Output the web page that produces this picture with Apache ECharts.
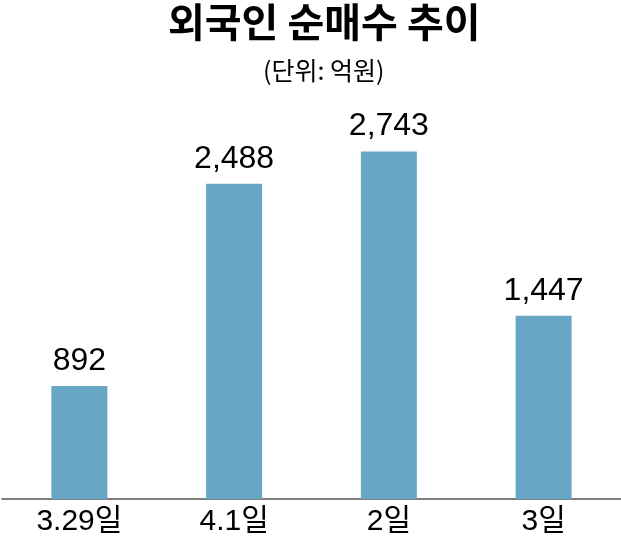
<!DOCTYPE html>
<html>
<head>
<meta charset="utf-8">
<script src="https://cdn.jsdelivr.net/npm/echarts@6/dist/echarts.min.js"></script>
<style>
html,body{margin:0;padding:0;background:#fff;}
#chart{width:621px;height:541px;}
</style>
</head>
<body>
<div id="chart"></div>
<script>
const titleText = '외국인 순매수 추이';
const unitText = '(단위: 억원)';
const categories = ['3.29일', '4.1일', '2일', '3일'];
const values = [892, 2488, 2743, 1447];

const chart = echarts.init(document.getElementById('chart'), null, {renderer: 'canvas'});
chart.setOption({
  animation: false,
  backgroundColor: '#ffffff',
  title: [
    {
      text: titleText,
      left: 163,
      top: -3,
      textStyle: {fontFamily: "'Noto Sans CJK KR'", fontWeight: 'bold', fontSize: 40, color: '#000'}
    },
    {
      text: unitText,
      left: 258,
      top: 53,
      textStyle: {fontFamily: "'Noto Sans CJK KR'", fontWeight: 'normal', fontSize: 25, color: '#000'}
    }
  ],
  grid: {left: 2, right: 0, top: 119, bottom: 42, containLabel: false},
  xAxis: {
    type: 'category',
    data: categories,
    axisLine: {show: true, lineStyle: {color: '#555', width: 1.5}},
    axisTick: {show: false},
    axisLabel: {
      margin: 8,
      fontFamily: "'Liberation Sans', 'Noto Sans CJK KR'",
      fontSize: 30,
      color: '#000'
    }
  },
  yAxis: {
    type: 'value',
    min: 0,
    max: 3000,
    show: false,
    splitLine: {show: false}
  },
  series: [{
    type: 'bar',
    data: values,
    barWidth: 56,
    itemStyle: {color: '#67A6C5'},
    label: {
      show: true,
      position: 'top',
      distance: 9,
      fontFamily: "'Liberation Sans'",
      fontSize: 32,
      color: '#000',
      formatter: p => p.value.toLocaleString('en-US')
    }
  }]
});
</script>
</body>
</html>
